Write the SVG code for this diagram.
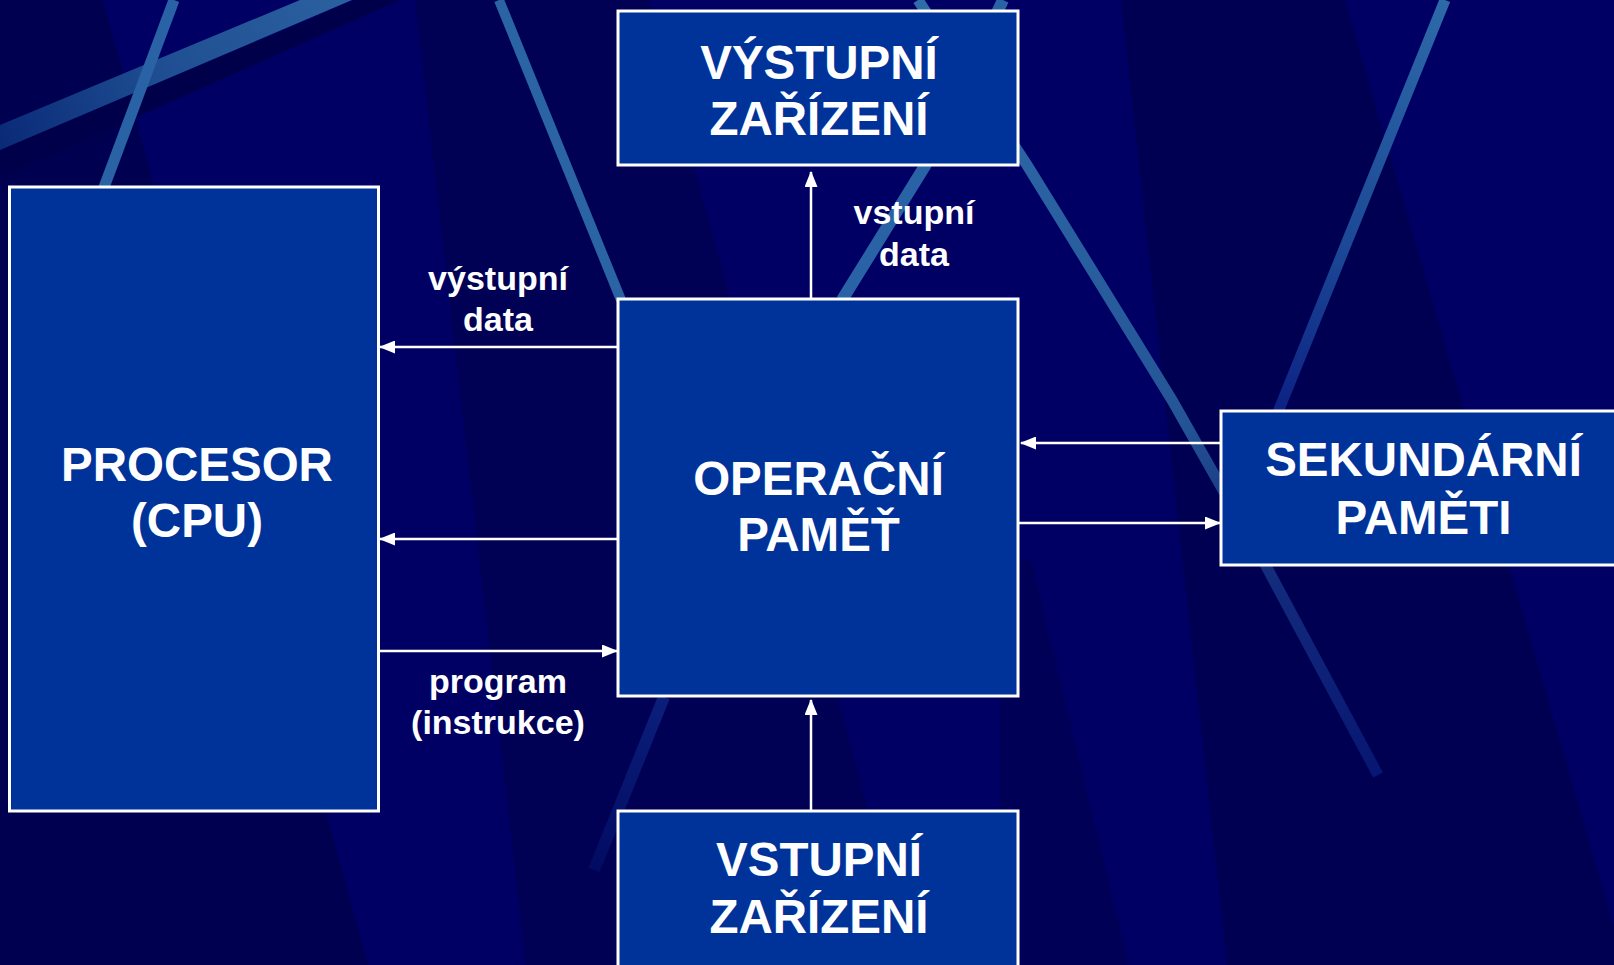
<svg xmlns="http://www.w3.org/2000/svg" width="1614" height="965" viewBox="0 0 1614 965">
  <style>
    .box { fill: #003399; stroke: #ffffff; stroke-width: 3; }
    .big { font-family: "Liberation Sans", Arial, sans-serif; font-weight: bold; font-size: 47.5px; fill: #ffffff; text-anchor: middle; }
    .lbl { font-family: "Liberation Sans", Arial, sans-serif; font-weight: bold; font-size: 34px; fill: #ffffff; text-anchor: middle; }
    .conn { stroke: #ffffff; stroke-width: 2.5; fill: none; marker-end: url(#arrow); }
    .stripe { fill: none; stroke-linecap: butt; }
  </style>
  <defs>
    <marker id="arrow" markerUnits="userSpaceOnUse" markerWidth="16" markerHeight="13" viewBox="0 0 16 13" refX="15" refY="6.5" orient="auto">
      <path d="M0,0 L16,6.5 L0,13 Z" fill="#ffffff"/>
    </marker>
    <linearGradient id="gS4" gradientUnits="userSpaceOnUse" x1="918" y1="0" x2="1380" y2="775">
      <stop offset="0" stop-color="#2f6caa"/>
      <stop offset="0.55" stop-color="#245597"/>
      <stop offset="0.7" stop-color="#16307e"/>
      <stop offset="1" stop-color="#071672"/>
    </linearGradient>
    <linearGradient id="gS5" gradientUnits="userSpaceOnUse" x1="1445" y1="0" x2="1278" y2="410">
      <stop offset="0" stop-color="#2d6aa8"/>
      <stop offset="0.6" stop-color="#1c4896"/>
      <stop offset="1" stop-color="#0c2284"/>
    </linearGradient>
    <linearGradient id="gS6b" gradientUnits="userSpaceOnUse" x1="662" y1="697" x2="595" y2="870">
      <stop offset="0" stop-color="#0b1f7a"/>
      <stop offset="1" stop-color="#020b62"/>
    </linearGradient>
    <linearGradient id="gS2" gradientUnits="userSpaceOnUse" x1="0" y1="140" x2="330" y2="0">
      <stop offset="0" stop-color="#0a2a78"/>
      <stop offset="0.5" stop-color="#1f4f92"/>
      <stop offset="1" stop-color="#2a5f9e"/>
    </linearGradient>
  </defs>

  <!-- background -->
  <g id="background">
    <rect x="0" y="0" width="1614" height="965" fill="#000064"/>
    <polygon points="0,0 103,0 368,965 0,965" fill="#000050"/>
    <polygon points="415,0 649,0 910,965 526,965" fill="#000054"/>
    <polygon points="1121,0 1345,0 1614,927 1614,965 1227,965" fill="#000052"/>
    <polygon points="1000,560 1031,560 1129,965 1000,965" fill="#000057"/>
    <!-- wide diagonal band top-left -->
    <polygon points="0,150 355,0 400,0 0,178" fill="#00004a"/>
    <polygon points="0,125 300,0 352,0 0,150" fill="url(#gS2)"/>
    <!-- stripes -->
    <line class="stripe" x1="174" y1="0" x2="103" y2="190" stroke="#2a62a6" stroke-width="11"/>
    <line class="stripe" x1="499" y1="0" x2="621" y2="300" stroke="#2a64a4" stroke-width="10"/>
    <polyline class="stripe" points="918,0 1027,165 1172,400 1266,566 1378,775" stroke="url(#gS4)" stroke-width="11"/>
    <polyline class="stripe" points="1445,0 1278,412" stroke="url(#gS5)" stroke-width="11"/>
    <polyline class="stripe" points="1003,0 925,166 842,300" stroke="#2a63a5" stroke-width="12"/>
    <polyline class="stripe" points="664,697 594,870" stroke="url(#gS6b)" stroke-width="12"/>
  </g>

  <!-- connectors -->
  <g id="connectors">
    <line class="conn" x1="811" y1="298" x2="811" y2="172"/>
    <line class="conn" x1="617" y1="347" x2="380" y2="347"/>
    <line class="conn" x1="617" y1="539" x2="380" y2="539"/>
    <line class="conn" x1="379" y1="651" x2="617" y2="651"/>
    <line class="conn" x1="1220" y1="443" x2="1021" y2="443"/>
    <line class="conn" x1="1019" y1="523" x2="1220" y2="523"/>
    <line class="conn" x1="811" y1="810" x2="811" y2="700"/>
    <text class="lbl" x="498" y="290">výstupní</text>
    <text class="lbl" x="498" y="331">data</text>
    <text class="lbl" x="914" y="224">vstupní</text>
    <text class="lbl" x="914" y="266">data</text>
    <text class="lbl" x="498" y="693">program</text>
    <text class="lbl" x="498" y="734">(instrukce)</text>
  </g>

  <g id="cpu">
    <rect class="box" x="9.5" y="187" width="369" height="624"/>
    <text class="big" x="197" y="481">PROCESOR</text>
    <text class="big" x="197" y="537">(CPU)</text>
  </g>
  <g id="vystupni-zarizeni">
    <rect class="box" x="618" y="11" width="400" height="154"/>
    <text class="big" x="819" y="79">VÝSTUPNÍ</text>
    <text class="big" x="819" y="135">ZAŘÍZENÍ</text>
  </g>
  <g id="operacni-pamet">
    <rect class="box" x="618" y="299" width="400" height="397"/>
    <text class="big" x="818.5" y="495">OPERAČNÍ</text>
    <text class="big" x="818.5" y="551">PAMĚŤ</text>
  </g>
  <g id="sekundarni-pameti">
    <rect class="box" x="1221" y="411" width="410" height="154"/>
    <text class="big" x="1423.5" y="476">SEKUNDÁRNÍ</text>
    <text class="big" x="1423.5" y="534">PAMĚTI</text>
  </g>
  <g id="vstupni-zarizeni">
    <rect class="box" x="618" y="811" width="400" height="170"/>
    <text class="big" x="819" y="876">VSTUPNÍ</text>
    <text class="big" x="819" y="933">ZAŘÍZENÍ</text>
  </g>
</svg>
